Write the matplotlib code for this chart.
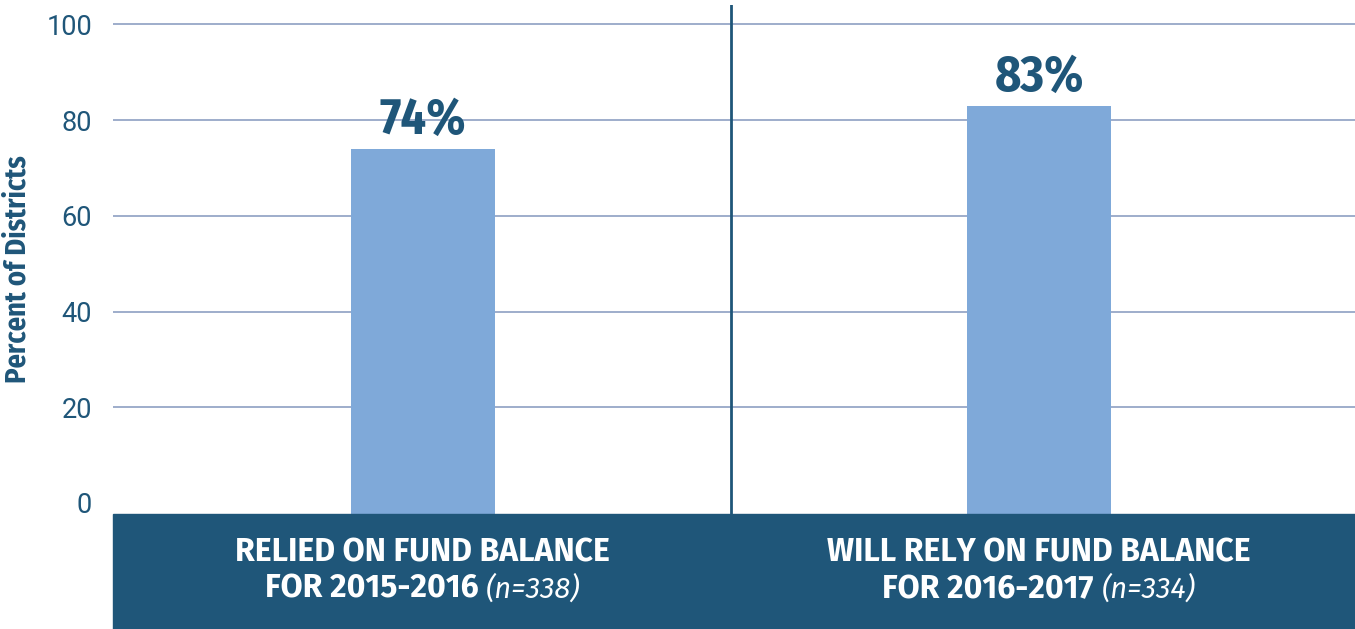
import matplotlib
matplotlib.use("Agg")
import matplotlib.pyplot as plt
from matplotlib.patches import Rectangle

categories_top = ["RELIED ON FUND BALANCE", "WILL RELY ON FUND BALANCE"]
categories_bottom = ["FOR 2015-2016", "FOR 2016-2017"]
sample_sizes = ["(n=338)", "(n=334)"]
percent_values = [74, 83]
y_ticks = [0, 20, 40, 60, 80, 100]

navy = "#1f5679"
bar_blue = "#7fa9d9"
grid_color = "#8d9fc2"
narrow = ["Fira Sans Condensed", "DejaVu Sans"]
wide = ["Fira Sans", "DejaVu Sans"]
regular = ["Roboto", "DejaVu Sans"]

W, H = 1355, 629
fig = plt.figure(figsize=(W / 100, H / 100), dpi=100)
left_px, top_px, band_px = 113, 5, 514
ax = fig.add_axes([left_px / W, 1 - band_px / H, 1 - left_px / W, (band_px - top_px) / H])

y_min, y_max = -2.3, 104.07
x = list(range(len(percent_values)))
ax.set_xlim(-0.503, 1.513)
ax.set_ylim(y_min, y_max)

for t in y_ticks[1:]:
    ax.axhline(t, color=grid_color, lw=1.2, zorder=1)
ax.axvline(0.5, color=navy, lw=2, zorder=3)

ax.bar(x, [v - y_min for v in percent_values], bottom=y_min, width=0.234,
       color=bar_blue, zorder=2)
for xi, v in zip(x, percent_values):
    ax.annotate(f"{v}%", (xi, v), xytext=(0, 11), textcoords="offset points",
                ha="center", va="baseline", fontsize=36, fontweight="bold",
                color=navy, family=narrow)

ax.set_yticks(y_ticks)
ax.set_yticklabels([str(t) for t in y_ticks], family=regular, fontsize=19.5, color=navy)
ax.tick_params(axis="y", length=0, pad=15)
ax.set_xticks([])
for s in ax.spines.values():
    s.set_visible(False)
ax.set_ylabel("Percent of Districts", family=narrow, fontsize=20.5, fontweight="bold",
              color=navy, labelpad=0)
ax.yaxis.set_label_coords(-0.0655, 0.481)

# dark band with the category names
fig.patches.append(Rectangle((left_px / W, 0), 1 - left_px / W, 1 - band_px / H,
                             transform=fig.transFigure, color=navy, zorder=0))
line1_y = 1 - 561 / H
line2_y = 1 - 598 / H
fig.canvas.draw()
renderer = fig.canvas.get_renderer()
for xi, top, bottom, n in zip(x, categories_top, categories_bottom, sample_sizes):
    xf = fig.transFigure.inverted().transform(ax.transData.transform((xi, 0)))[0]
    fig.text(xf, line1_y, top, ha="center", va="baseline", color="white",
             fontsize=23, fontweight="bold", family=wide)
    t1 = fig.text(xf, line2_y, bottom + " ", ha="left", va="baseline", color="white",
                  fontsize=23, fontweight="bold", family=wide)
    t2 = fig.text(xf, line2_y, n, ha="left", va="baseline", color="white",
                  fontsize=21, style="italic", family=wide)
    w1 = t1.get_window_extent(renderer).width / W
    w2 = t2.get_window_extent(renderer).width / W
    start = xf - (w1 + w2) / 2
    t1.set_x(start)
    t2.set_x(start + w1)

fig.savefig("out.png", dpi=100)
